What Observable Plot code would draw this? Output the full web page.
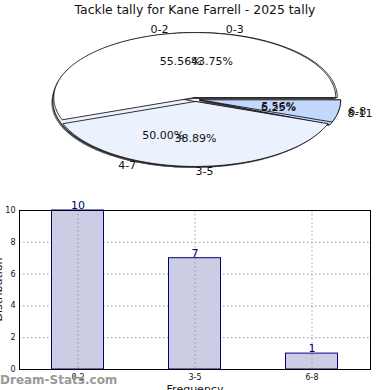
<!DOCTYPE html>
<html><head><meta charset="utf-8">
<script src="https://cdn.jsdelivr.net/npm/d3@7"></script>
<script src="https://cdn.jsdelivr.net/npm/@observablehq/plot@0.6"></script>
<style>
body{margin:0;background:#fff;}
#wrap{position:relative;width:390px;height:390px;overflow:hidden;font-family:"DejaVu Sans",sans-serif;background:#fff;}
.abs{position:absolute;white-space:nowrap;}
</style></head><body>
<div id="wrap">
  <div id="pie" class="abs" style="left:0;top:0"></div>
  <div id="bar" class="abs" style="left:0;top:190px"></div>
  <div id="title" class="abs" style="left:0;width:390px;top:2px;text-align:center;font-size:12.4px;color:#111"></div>
  <div id="xlabel" class="abs" style="left:0;width:390px;top:383px;text-align:center;font-size:11px;color:#111"></div>
  <div id="ylabel" class="abs" style="left:-42px;top:283px;width:80px;text-align:center;font-size:11px;color:#111;transform:rotate(-90deg)"></div>
  <div id="wm" class="abs" style="left:0;top:373px;font-size:12px;font-weight:bold;color:#9a9a9a"></div>
</div>
<script>
const titleText = "Tackle tally for Kane Farrell - 2025 tally";
const xLabel = "Frequency";
const yLabel = "Distribution";
const watermark = "Dream-Stats.com";
const pie1Labels = ["0-2", "3-5", "6-8"];
const pie1Values = [10, 7, 1];
const pie2Labels = ["0-3", "4-7", "8-11"];
const pie2Values = [7, 8, 1];
const sliceColors = ["#ffffff", "#ecf1fe", "#c4d7fd"];
const barCategories = ["0-2", "3-5", "6-8"];
const barValues = [10, 7, 1];
const yTicks = [0, 2, 4, 6, 8, 10];

document.getElementById("title").textContent = titleText;
document.getElementById("xlabel").textContent = xLabel;
document.getElementById("ylabel").textContent = yLabel;
document.getElementById("wm").textContent = watermark;

const explode = 0.03;
function buildPie(labels, values, key) {
  const total = d3.sum(values);
  let a = 0;
  const pts = [], labs = [];
  labels.forEach((lab, i) => {
    const a0 = a, a1 = a + values[i] / total * 2 * Math.PI;
    a = a1;
    const mid = (a0 + a1) / 2;
    const ox = explode * Math.cos(mid), oy = explode * Math.sin(mid);
    const id = key + i, color = sliceColors[i];
    pts.push({x: ox, y: oy, id, color});
    const n = Math.max(2, Math.ceil((a1 - a0) / (Math.PI / 180)));
    for (let k = 0; k <= n; k++) {
      const t = a0 + (a1 - a0) * k / n;
      pts.push({x: ox + Math.cos(t), y: oy + Math.sin(t), id, color});
    }
    pts.push({x: ox, y: oy, id, color});
    labs.push({
      name: lab,
      pct: (values[i] / total * 100).toFixed(2) + "%",
      lx: 1.1 * Math.cos(mid), ly: 1.1 * Math.sin(mid),
      px: 0.6 * Math.cos(mid), py: 0.6 * Math.sin(mid)
    });
  });
  return {pts, labs};
}
const p1 = buildPie(pie1Labels, pie1Values, "a");
const p2 = buildPie(pie2Labels, pie2Values, "b");
const allLabs = p1.labs.concat(p2.labs);

const cx = 195, cy = 99, rx = 141, ry = 65, pw = 390, ph = 190;
const pie = Plot.plot({
  width: pw, height: ph,
  marginTop: 0, marginBottom: 0, marginLeft: 0, marginRight: 0,
  x: {domain: [-cx / rx, (pw - cx) / rx], axis: null},
  y: {domain: [-(ph - cy) / ry, cy / ry], axis: null},
  color: {type: "identity"},
  style: {fontFamily: "DejaVu Sans, sans-serif", fontSize: "11px", background: "transparent"},
  marks: [
    Plot.line(p2.pts, {x: "x", y: "y", z: "id", fill: "#333", fillOpacity: 0.7, stroke: "none", dx: -1.5, dy: 1.5, curve: "linear"}),
    Plot.line(p1.pts, {x: "x", y: "y", z: "id", fill: "#333", fillOpacity: 0.7, stroke: "none", dx: -1.5, dy: 1.5, curve: "linear"}),
    Plot.line(p2.pts, {x: "x", y: "y", z: "id", fill: "color", stroke: "#000", strokeWidth: 0.8, curve: "linear"}),
    Plot.line(p1.pts, {x: "x", y: "y", z: "id", fill: "color", stroke: "#000", strokeWidth: 0.8, curve: "linear"}),
    Plot.text(allLabs, {x: "px", y: "py", text: "pct", fill: "#111", fontSize: 11}),
    Plot.text(allLabs.filter(d => d.lx >= -1e-9), {x: "lx", y: "ly", text: "name", textAnchor: "start", fill: "#111", fontSize: 11}),
    Plot.text(allLabs.filter(d => d.lx < -1e-9), {x: "lx", y: "ly", text: "name", textAnchor: "end", fill: "#111", fontSize: 11})
  ]
});
document.getElementById("pie").append(pie);

const bars = barCategories.map((c, i) => ({cat: c, val: barValues[i]}));
const bar = Plot.plot({
  width: 390, height: 200,
  marginLeft: 19, marginRight: 20, marginTop: 20, marginBottom: 21,
  x: {domain: barCategories, padding: 0, label: null},
  y: {domain: [0, 10], label: null},
  style: {fontFamily: "DejaVu Sans, sans-serif", background: "transparent"},
  marks: [
    Plot.gridY([2, 4, 6, 8], {stroke: "#9a9a9a", strokeOpacity: 1, strokeDasharray: "1.5,2.5"}),
    Plot.barY(bars, {x: "cat", y: "val", fill: "#ccccE4", stroke: "#000080", strokeWidth: 1, insetLeft: 32.5, insetRight: 32.5}),
    Plot.gridX(barCategories, {stroke: "#9a9a9a", strokeOpacity: 1, strokeDasharray: "1.5,2.5"}),
    Plot.frame({stroke: "#000", strokeWidth: 1}),
    Plot.text(bars, {x: "cat", y: "val", text: d => String(d.val), dy: -5, fill: "#000080", fontSize: 11}),
    Plot.axisY(yTicks, {tickSize: 0, tickPadding: 4, fontSize: 8, fill: "#111", label: null}),
    Plot.axisX(barCategories, {tickSize: 0, tickPadding: 5, fontSize: 8, fill: "#111", label: null})
  ]
});
document.getElementById("bar").append(bar);
</script>
</body></html>
